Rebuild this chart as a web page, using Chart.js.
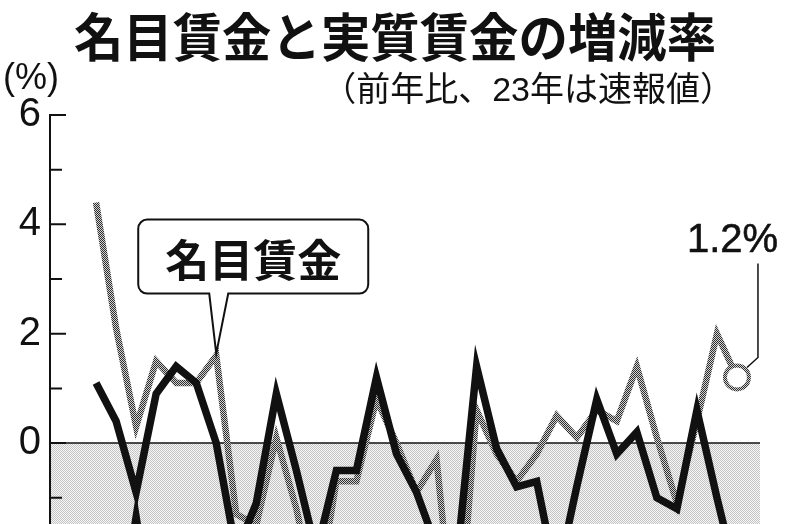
<!DOCTYPE html>
<html lang="ja">
<head>
<meta charset="utf-8">
<script src="https://cdn.jsdelivr.net/npm/chart.js@4.4.1/dist/chart.umd.min.js"></script>
<style>
html, body { margin: 0; padding: 0; background: #fff; }
#wrap { position: relative; width: 786px; height: 524px; overflow: hidden; }
#chart { position: absolute; left: 0; top: 0; }
.txt { position: absolute; white-space: nowrap; color: #111; line-height: 1;
       font-family: "Liberation Sans", "Noto Sans CJK JP", sans-serif; }
#title { left: 0; width: 790px; top: 9px; text-align: center; font-family: "Noto Sans CJK JP";
         font-weight: bold; font-size: 52px; transform: scaleX(0.95); }
#sub { right: 52px; top: 72px; font-size: 34px; }
#unit { left: 3px; top: 59px; font-size: 36px; }
#lblNominal { font-family: "Noto Sans CJK JP"; font-weight: bold; font-size: 44px; transform: translate(-50%, -50%); }
#lblLast { font-size: 40px; -webkit-text-stroke: 0.6px #111; }
</style>
</head>
<body>
<div id="wrap">
  <canvas id="chart" width="786" height="524"></canvas>
  <div class="txt" id="title">名目賃金と実質賃金の増減率</div>
  <div class="txt" id="sub">（前年比、23年は速報値）</div>
  <div class="txt" id="unit">(%)</div>
  <div class="txt" id="lblNominal">名目賃金</div>
  <div class="txt" id="lblLast">1.2%</div>
</div>
<script>
// 1991-2023, yearly
const years = [1991, 1992, 1993, 1994, 1995, 1996, 1997, 1998, 1999, 2000,
               2001, 2002, 2003, 2004, 2005, 2006, 2007, 2008, 2009, 2010,
               2011, 2012, 2013, 2014, 2015, 2016, 2017, 2018, 2019, 2020,
               2021, 2022, 2023];
// 名目賃金 (grey)
const nominalWage = [4.4, 2.1, 0.3, 1.5, 1.1, 1.1, 1.6, -1.3, -1.5, 0.1,
                     -1.2, -2.9, -0.7, -0.7, 0.8, 0.0, -0.9, -0.3, -3.9, 0.6,
                     -0.2, -0.7, -0.2, 0.5, 0.1, 0.6, 0.4, 1.4, 0.1, -1.1,
                     0.4, 2.0, 1.2];
// 実質賃金 (black)
const realWage = [1.1, 0.4, -0.9, 0.9, 1.4, 1.1, 0.0, -2.0, -1.1, 0.9,
                  -0.5, -2.0, -0.5, -0.5, 1.2, -0.2, -0.9, -1.9, -2.2, 1.4,
                  -0.1, -0.8, -0.7, -2.5, -0.8, 0.8, -0.2, 0.2, -1.0, -1.2,
                  0.6, -1.0, -2.5];
const yLabels = [0, 2, 4, 6];

const canvas = document.getElementById('chart');
const ctx0 = canvas.getContext('2d');

function checker(a, b) {
  const c = document.createElement('canvas');
  c.width = 2; c.height = 2;
  const g = c.getContext('2d');
  g.fillStyle = b; g.fillRect(0, 0, 2, 2);
  g.fillStyle = a; g.fillRect(0, 0, 1, 1); g.fillRect(1, 1, 1, 1);
  return ctx0.createPattern(c, 'repeat');
}
const greyLine = checker('#2e2e2e', '#d2d2d2');
const minusFill = checker('#c4c4c4', '#f6f6f6');

function roundBox(ctx, l, t, r, b, rad, pl, pr, tip) {
  ctx.beginPath();
  ctx.moveTo(l + rad, t);
  ctx.lineTo(r - rad, t);
  ctx.arcTo(r, t, r, t + rad, rad);
  ctx.lineTo(r, b - rad);
  ctx.arcTo(r, b, r - rad, b, rad);
  ctx.lineTo(pr, b);
  ctx.lineTo(tip.x, tip.y);
  ctx.lineTo(pl, b);
  ctx.lineTo(l + rad, b);
  ctx.arcTo(l, b, l, b - rad, rad);
  ctx.lineTo(l, t + rad);
  ctx.arcTo(l, t, l + rad, t, rad);
  ctx.closePath();
}

const decor = {
  id: 'decor',
  beforeDatasetsDraw(chart) {
    const { ctx, chartArea: a, scales: { y } } = chart;
    const y0 = y.getPixelForValue(0);
    ctx.save();
    ctx.fillStyle = minusFill;
    ctx.fillRect(a.left, y0, a.right - a.left, a.bottom - y0);
    ctx.strokeStyle = '#111';
    ctx.lineWidth = 1.5;
    ctx.beginPath();
    ctx.moveTo(a.left, y0); ctx.lineTo(a.right, y0);
    ctx.stroke();
    ctx.lineWidth = 2;
    ctx.beginPath();
    ctx.moveTo(a.left, a.top - 1); ctx.lineTo(a.left, a.bottom);
    for (let v = -1; v <= 6; v++) {
      const py = y.getPixelForValue(v);
      ctx.moveTo(a.left, py);
      ctx.lineTo(a.left + (v % 2 === 0 ? 16 : 12), py);
    }
    ctx.stroke();
    ctx.restore();
  },
  afterDatasetsDraw(chart) {
    const { ctx } = chart;
    const realPts = chart.getDatasetMeta(0).data;
    const nomPts = chart.getDatasetMeta(1).data;
    ctx.save();
    ctx.strokeStyle = '#111';
    ctx.lineWidth = 2;
    ctx.lineJoin = 'miter';

    // 名目賃金 callout, pointing at 1997
    const p = nomPts[6];
    const tip = { x: p.x, y: p.y - 2 };
    const box = { l: tip.x - 78, r: tip.x + 152, t: tip.y - 134, b: tip.y - 60 };
    roundBox(ctx, box.l, box.t, box.r, box.b, 9, tip.x - 7, tip.x + 12, tip);
    ctx.fillStyle = '#fff';
    ctx.fill();
    ctx.stroke();
    const lb = document.getElementById('lblNominal');
    lb.style.left = ((box.l + box.r) / 2) + 'px';
    lb.style.top = ((box.t + box.b) / 2 + 1) + 'px';

    // pointer of the (cropped) 実質賃金 callout, pointing at 1993
    const q = realPts[2];
    ctx.beginPath();
    ctx.moveTo(q.x, q.y + 1);
    ctx.lineTo(q.x - 10, q.y + 64);
    ctx.lineTo(q.x + 10, q.y + 64);
    ctx.closePath();
    ctx.fillStyle = '#111';
    ctx.fill();

    // leader to the 2023 value
    const e = nomPts[nomPts.length - 1];
    ctx.lineWidth = 1.5;
    ctx.beginPath();
    ctx.moveTo(e.x + 10, e.y - 10);
    ctx.lineTo(e.x + 21, e.y - 20);
    ctx.lineTo(e.x + 21, e.y - 114);
    ctx.stroke();
    const ll = document.getElementById('lblLast');
    ll.style.left = (e.x - 50) + 'px';
    ll.style.top = (e.y - 159) + 'px';
    ctx.restore();
  }
};

new Chart(canvas, {
  type: 'line',
  data: {
    datasets: [{
      label: '実質賃金',
      data: years.map((yr, i) => ({ x: yr, y: realWage[i] })),
      borderColor: '#111',
      borderWidth: 7.5,
      pointRadius: 0,
      tension: 0
    }, {
      label: '名目賃金',
      data: years.map((yr, i) => ({ x: yr, y: nominalWage[i] })),
      borderColor: greyLine,
      borderWidth: 6.5,
      pointRadius: years.map((yr, i) => i === years.length - 1 ? 12 : 0),
      pointBorderWidth: 4,
      pointBorderColor: greyLine,
      pointBackgroundColor: '#fff',
      tension: 0
    }]
  },
  options: {
    responsive: false,
    animation: false,
    events: [],
    layout: { autoPadding: false, padding: { top: 115, right: 26, left: 0, bottom: 0 } },
    plugins: { legend: { display: false }, tooltip: { enabled: false } },
    scales: {
      x: { type: 'linear', min: 1988.7, max: 2024.15, display: false },
      y: {
        min: -1.48, max: 6,
        grid: { display: false, drawTicks: false },
        border: { display: false },
        ticks: {
          stepSize: 1,
          autoSkip: false,
          padding: 9,
          color: '#111',
          font: { family: 'Liberation Sans', size: 40 },
          callback: v => yLabels.includes(v) ? String(v) : ''
        },
        afterFit: s => { s.width = 50; s.paddingTop = 0; s.paddingBottom = 0; }
      }
    }
  },
  plugins: [decor]
});
</script>
</body>
</html>
